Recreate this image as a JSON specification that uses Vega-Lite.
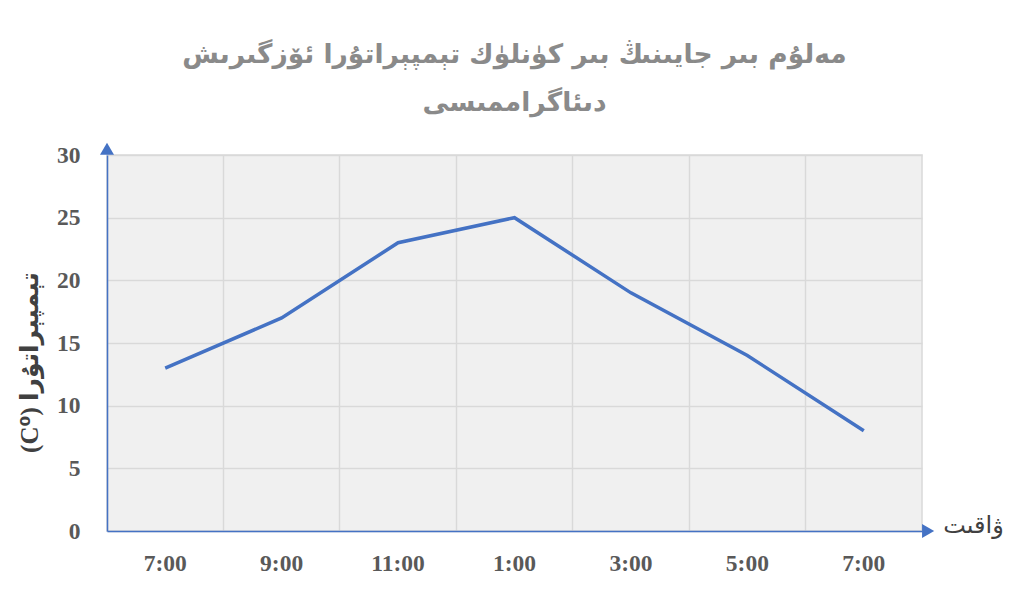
{
  "$schema": "https://vega.github.io/schema/vega-lite/v6.json",
  "width": 815,
  "height": 376,
  "autosize": {"type": "none"},
  "padding": {"left": 107, "top": 155, "right": 109, "bottom": 73},
  "background": "white",
  "view": {"fill": "#f0f0f0", "stroke": "#d9d9d9", "strokeWidth": 1.5},
  "title": {
    "text": ["مەلۇم بىر جايىنىڭ بىر كۈنلۈك تېمپېراتۇرا ئۆزگىرىش", "دىئاگراممىسى"],
    "font": "DejaVu Sans",
    "fontSize": 26.5,
    "fontWeight": "bold",
    "color": "#8a8a8a",
    "anchor": "middle",
    "lineHeight": 48,
    "offset": 26
  },
  "data": {
    "values": [
      {"time": "7:00 AM", "order": 1, "temp": 13},
      {"time": "9:00 AM", "order": 2, "temp": 17},
      {"time": "11:00 AM", "order": 3, "temp": 23},
      {"time": "1:00 PM", "order": 4, "temp": 25},
      {"time": "3:00 PM", "order": 5, "temp": 19},
      {"time": "5:00 PM", "order": 6, "temp": 14},
      {"time": "7:00 PM", "order": 7, "temp": 8}
    ]
  },
  "layer": [
    {
      "mark": {"type": "line", "color": "#4472C4", "strokeWidth": 3.5},
      "encoding": {
        "x": {
          "field": "time",
          "type": "ordinal",
          "sort": {"field": "order"},
          "scale": {"type": "band", "paddingInner": 0, "paddingOuter": 0},
          "axis": {
            "labelExpr": "split(datum.label, ' ')[0]",
            "labelAngle": 0,
            "labelFont": "Liberation Serif",
            "labelFontSize": 23.5,
            "labelFontWeight": "bold",
            "labelColor": "#595959",
            "labelPadding": 20,
            "ticks": false,
            "grid": true,
            "bandPosition": 0,
            "gridColor": "#d9d9d9",
            "gridWidth": 1.5,
            "domainColor": "#4472C4",
            "domainWidth": 1.5,
            "title": "ۋاقىت",
            "titleFont": "DejaVu Sans",
            "titleFontSize": 24,
            "titleFontWeight": "normal",
            "titleColor": "#404040",
            "titleX": 866,
            "titleY": -6,
            "titleAlign": "center",
            "titleBaseline": "middle"
          }
        },
        "y": {
          "field": "temp",
          "type": "quantitative",
          "scale": {"domain": [0, 30], "nice": false},
          "axis": {
            "values": [0, 5, 10, 15, 20, 25, 30],
            "labelFont": "Liberation Serif",
            "labelFontSize": 23.5,
            "labelFontWeight": "bold",
            "labelColor": "#595959",
            "labelPadding": 27,
            "ticks": false,
            "gridColor": "#d9d9d9",
            "gridWidth": 1.5,
            "domainColor": "#4472C4",
            "domainWidth": 1.5,
            "title": "(C⁰) تېمپېراتۇرا",
            "titleFont": "Liberation Serif, DejaVu Sans",
            "titleFontSize": 25,
            "titleFontWeight": "bold",
            "titleColor": "#404040",
            "titleAngle": -90,
            "titleX": -78,
            "titleY": 207,
            "titleAlign": "center",
            "titleBaseline": "middle"
          }
        }
      }
    },
    {
      "data": {"values": [{}]},
      "mark": {"type": "point", "filled": true, "opacity": 1, "color": "#4472C4", "shape": "triangle-up", "size": 196},
      "encoding": {
        "x": {"datum": 0, "type": "quantitative", "scale": {"domain": [0, 1], "nice": false}, "axis": null},
        "y": {"datum": 30.5, "type": "quantitative"}
      }
    },
    {
      "data": {"values": [{}]},
      "mark": {"type": "point", "filled": true, "opacity": 1, "color": "#4472C4", "shape": "triangle-right", "size": 196},
      "encoding": {
        "x": {"datum": 1.0075, "type": "quantitative", "scale": {"domain": [0, 1], "nice": false}, "axis": null},
        "y": {"datum": 0, "type": "quantitative"}
      }
    }
  ],
  "resolve": {"scale": {"x": "independent"}}
}
